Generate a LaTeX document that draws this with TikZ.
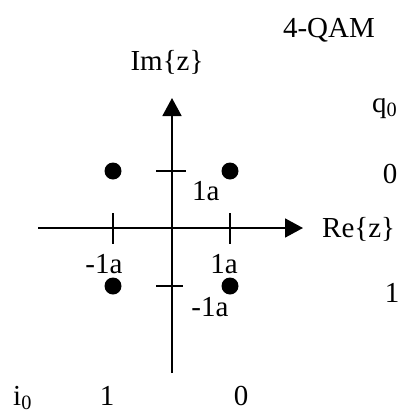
\documentclass[tikz,border=0pt]{standalone}
\usepackage{fontspec}
\setmainfont{Liberation Serif}
\usetikzlibrary{arrows.meta}
\begin{document}
\begin{tikzpicture}[x=1pt,y=-1pt,
  lbl/.style={inner sep=0pt,font=\fontsize{29}{31}\selectfont},
  axis/.style={line width=1.8pt,-{Triangle[length=18pt,width=19pt]}},
  tick/.style={line width=1.6pt},
  dot/.style={circle,fill=black,inner sep=0pt,minimum size=17pt}]
\useasboundingbox (0,0) rectangle (405,416);
% axes
\coordinate (xl) at (38,228);
\coordinate (xr) at (303,228);
\coordinate (yb) at (172,373);
\coordinate (yt) at (172,98);
\draw[axis] (xl) -- (xr);
\draw[axis] (yb) -- (yt);
% ticks
\coordinate (tx1a) at (113,213); \coordinate (tx1b) at (113,244);
\coordinate (tx2a) at (230,213); \coordinate (tx2b) at (230,244);
\coordinate (ty1a) at (156,171); \coordinate (ty1b) at (186,171);
\coordinate (ty2a) at (156,286); \coordinate (ty2b) at (183,286);
\draw[tick] (tx1a) -- (tx1b);
\draw[tick] (tx2a) -- (tx2b);
\draw[tick] (ty1a) -- (ty1b);
\draw[tick] (ty2a) -- (ty2b);
% constellation points
\node[dot] (p1) at (113,171) {};
\node[dot] (p2) at (230,171) {};
\node[dot] (p3) at (113,286) {};
\node[dot] (p4) at (230,286) {};
% labels
\node[lbl,anchor=base] (title) at (329,37) {4-QAM};
\node[lbl,anchor=base] (im) at (167,70) {Im\{z\}};
\node[lbl,anchor=base west] (re) at (322,237) {Re\{z\}};
\node[lbl,anchor=base west] (q0) at (372,112) {q\textsubscript{0}};
\node[lbl,anchor=base] (r0) at (390,183) {0};
\node[lbl,anchor=base] (r1) at (392,302) {1};
\node[lbl,anchor=base west] (ly1) at (192,200) {1a};
\node[lbl,anchor=base] (lxm) at (104,273) {-1a};
\node[lbl,anchor=base] (lx1) at (224,273) {1a};
\node[lbl,anchor=base] (lym) at (210,316) {-1a};
\node[lbl,anchor=base west] (i0) at (13,405) {i\textsubscript{0}};
\node[lbl,anchor=base] (b1) at (107,405) {1};
\node[lbl,anchor=base] (b0) at (241,405) {0};
\end{tikzpicture}
\end{document}
